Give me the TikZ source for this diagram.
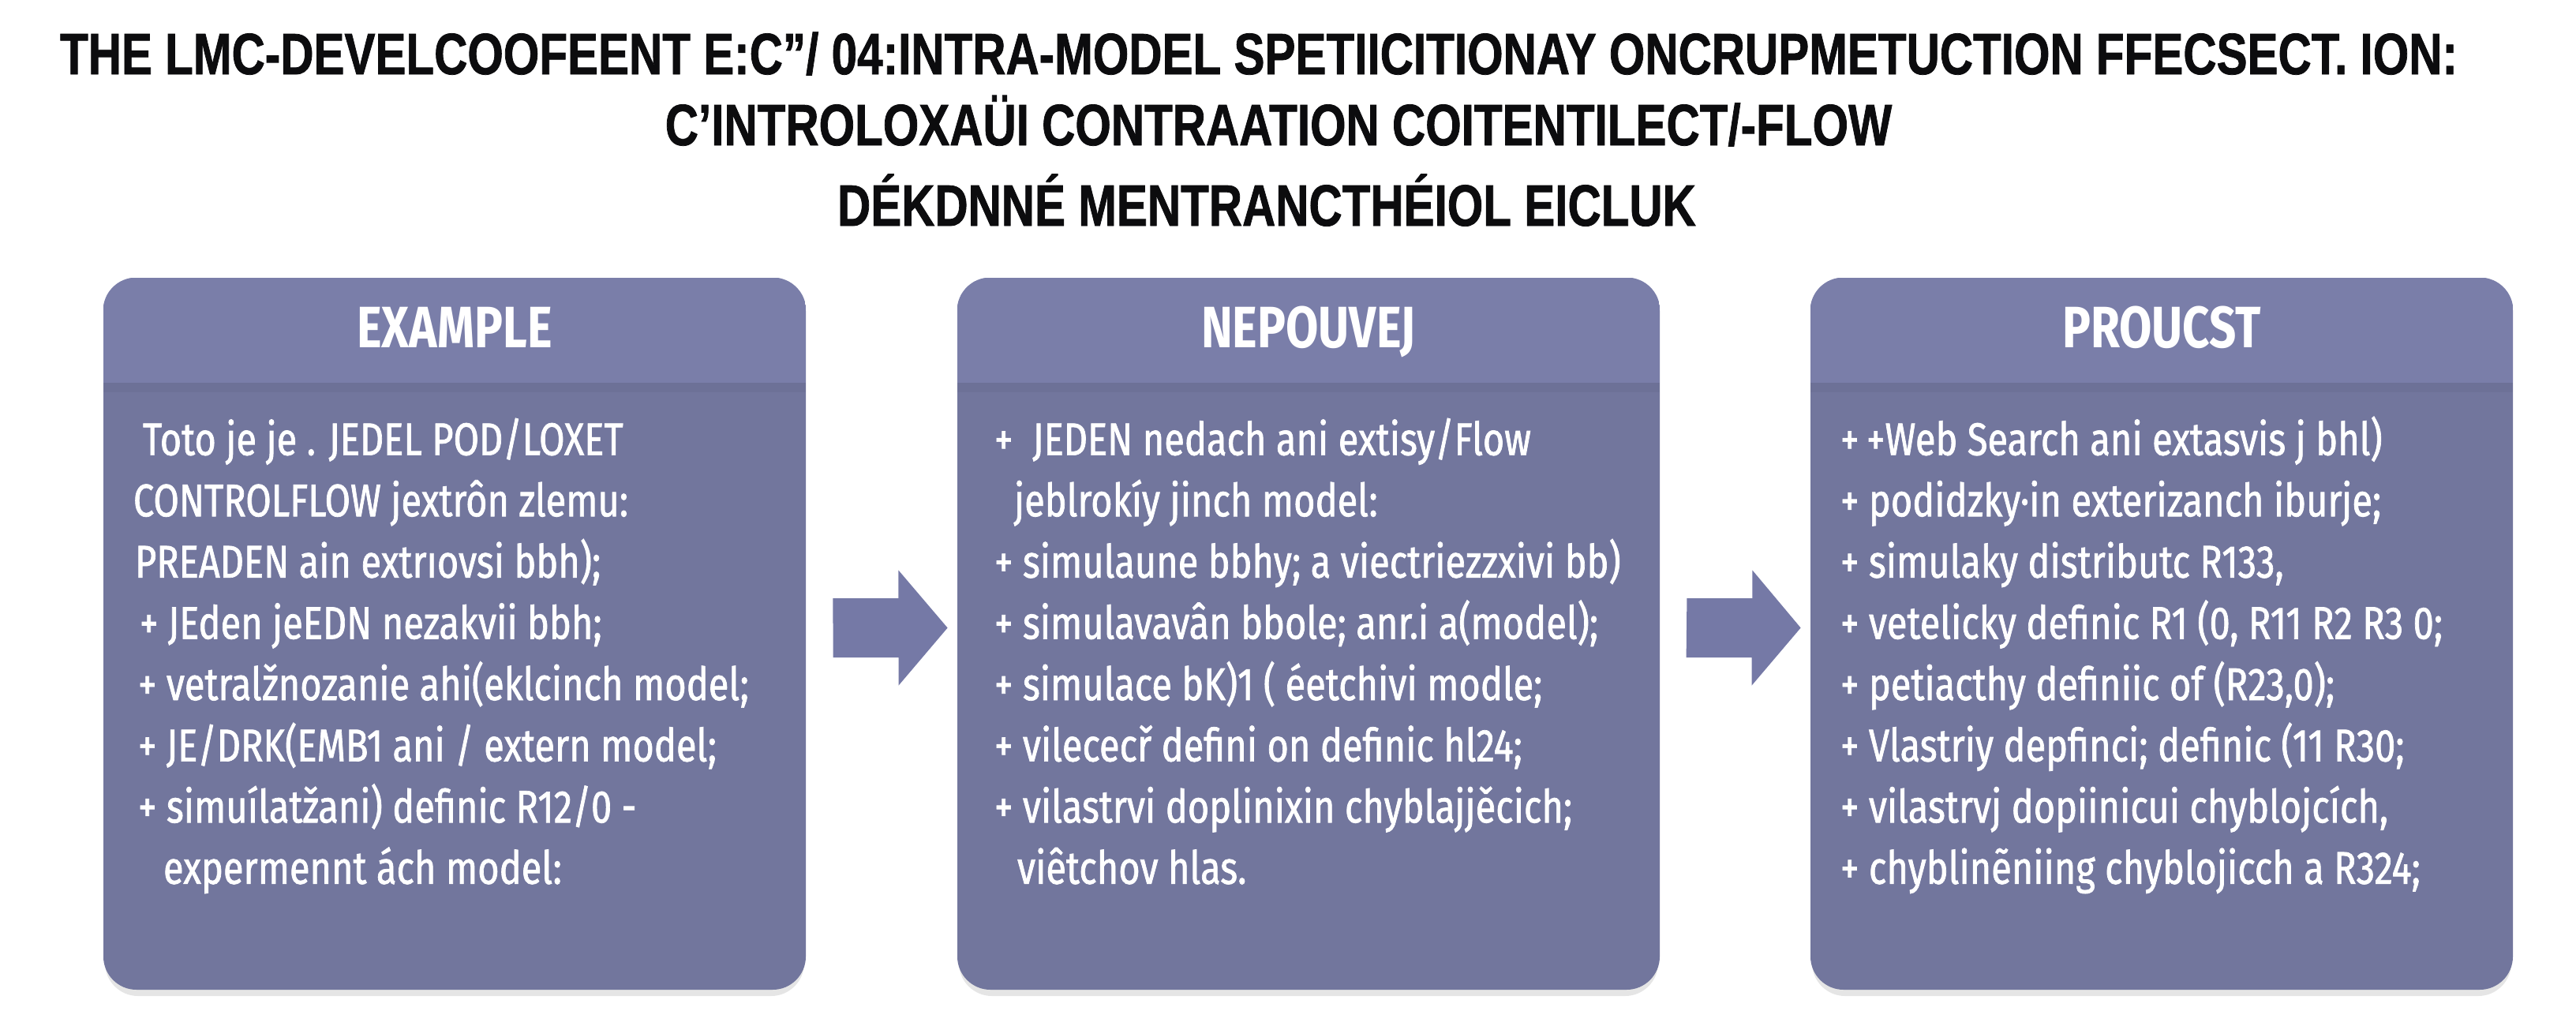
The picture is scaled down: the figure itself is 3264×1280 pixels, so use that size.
\documentclass[tikz,border=0pt]{standalone}
\usepackage{fontspec}
\setmainfont{Fira Sans}[FakeStretch=0.81]
\newfontfamily\bodyfont{Fira Sans}[FakeStretch=0.81, FakeBold=1.2]
\newfontfamily\titlefont{Liberation Sans}[FakeStretch=0.79, FakeBold=1]
\usetikzlibrary{calc}
\definecolor{headcol}{RGB}{122,126,169}
\definecolor{bodycol}{RGB}{114,118,157}
\definecolor{arrcol}{RGB}{117,121,166}
\definecolor{titlecol}{RGB}{12,12,14}
\begin{document}
\begin{tikzpicture}[x=0.5pt,y=-0.5pt,
  card/.style={rectangle, rounded corners=21pt, fill=bodycol, minimum width=445pt, minimum height=451pt, inner sep=0pt},
  titletxt/.style={anchor=base, inner sep=0pt, text=titlecol, font=\titlefont\bfseries\fontsize{37pt}{40pt}\selectfont},
  headtxt/.style={anchor=base, inner sep=0pt, text=white, font=\bfseries\fontsize{37pt}{40pt}\selectfont},
  bodytxt/.style={anchor=base west, inner sep=0pt, text=white, font=\bodyfont\fontsize{29pt}{32pt}\selectfont},
  blockarrow/.style={fill=arrcol}]
\useasboundingbox (0,0) rectangle (3264,1280);
\fill[white] (0,0) rectangle (3264,1280);

% title
\node[titletxt] (t1) at (1595,94) {THE LMC-DEVELCOOFEENT E:C”/ 04:INTRA-MODEL SPETIICITIONAY ONCRUPMETUCTION FFECSECT. ION:};
\node[titletxt] (t2) at (1620,184) {C’INTROLOXAÜI CONTRAATION COITENTILECT/-FLOW};
\node[titletxt] (t3) at (1605,286) {DÉKDNNÉ MENTRANCTHÉIOL EICLUK};

% shadows
\foreach \cx in {576,1658,2739}{
  \fill[black, opacity=0.10, rounded corners=21pt] (\cx-443,360) rectangle (\cx+443,1262);
}

% cards
\node[card] (b1) at (576,803) {};
\node[card] (b2) at (1658,803) {};
\node[card] (b3) at (2739,803) {};

\foreach \b in {b1,b2,b3}{
  \begin{scope}
    \clip[rounded corners=21pt] (\b.south west) rectangle (\b.north east);
    \fill[headcol] (\b.north west) rectangle ($(\b.north east)+(0,133)$);
    \fill[black, opacity=0.035] ($(\b.north west)+(0,133)$) rectangle ($(\b.north east)+(0,145)$);
  \end{scope}
}

% headers
\node[headtxt] (h1) at ($(b1.north)+(0,89)$) {EXAMPLE};
\node[headtxt] (h2) at ($(b2.north)+(0,89)$) {NEPOUVEJ};
\node[headtxt] (h3) at ($(b3.north)+(0,89)$) {PROUCST};

% body 1
\node[bodytxt] (p11) at ($(b1.north west)+(50,225)$) {Toto je je . JEDEL POD/LOXET};
\node[bodytxt] (p12) at ($(b1.north west)+(38,302.6)$) {CONTROLFLOW jextrôn zlemu:};
\node[bodytxt] (p13) at ($(b1.north west)+(40,380.2)$) {PREADEN ain extrıovsi bbh);};
\node[bodytxt] (p14) at ($(b1.north west)+(46,457.8)$) {+ JEden jeEDN nezakvii bbh;};
\node[bodytxt] (p15) at ($(b1.north west)+(44,535.4)$) {+ vetralžnozanie ahi(eklcinch model;};
\node[bodytxt] (p16) at ($(b1.north west)+(44,613)$) {+ JE/DRK(EMB1 ani / extern model;};
\node[bodytxt] (p17) at ($(b1.north west)+(44,690.6)$) {+ simuílatžani) definic R12/0 -};
\node[bodytxt] (p18) at ($(b1.north west)+(76,768.2)$) {expermennt ách model:};

% body 2
\node[bodytxt] (p21) at ($(b2.north west)+(47,225)$) {+ \ JEDEN nedach ani extisy/Flow};
\node[bodytxt] (p22) at ($(b2.north west)+(72,302.6)$) {jeblrokíy jinch model:};
\node[bodytxt] (p23) at ($(b2.north west)+(47,380.2)$) {+ simulaune bbhy; a viectriezzxivi bb)};
\node[bodytxt] (p24) at ($(b2.north west)+(47,457.8)$) {+ simulavavân bbole; anr.i a(model);};
\node[bodytxt] (p25) at ($(b2.north west)+(47,535.4)$) {+ simulace bK)1 ( éetchivi modle;};
\node[bodytxt] (p26) at ($(b2.north west)+(47,613)$) {+ vilececř defini on definic hl24;};
\node[bodytxt] (p27) at ($(b2.north west)+(47,690.6)$) {+ vilastrvi doplinixin chyblajjěcich;};
\node[bodytxt] (p28) at ($(b2.north west)+(76,768.2)$) {viêtchov hlas.};

% body 3
\node[bodytxt] (p31) at ($(b3.north west)+(38,225)$) {+\,+Web Search ani extasvis j bhl)};
\node[bodytxt] (p32) at ($(b3.north west)+(38,302.6)$) {+ podidzky·in exterizanch iburje;};
\node[bodytxt] (p33) at ($(b3.north west)+(38,380.2)$) {+ simulaky distributc R133,};
\node[bodytxt] (p34) at ($(b3.north west)+(38,457.8)$) {+ vetelicky definic R1 (0, R11 R2 R3 0;};
\node[bodytxt] (p35) at ($(b3.north west)+(38,535.4)$) {+ petiacthy definiic of (R23,0);};
\node[bodytxt] (p36) at ($(b3.north west)+(38,613)$) {+ Vlastriy depfinci; definic (11 R30;};
\node[bodytxt] (p37) at ($(b3.north west)+(38,690.6)$) {+ vilastrvj dopiinicui chyblojcích,};
\node[bodytxt] (p38) at ($(b3.north west)+(38,768.2)$) {+ chyblinẽniing chyblojicch a R324;};

% block arrows
\coordinate (a1s) at ($(b1.east)+(34,-7.5)$);
\coordinate (a1e) at ($(b2.west)+(-12,-7.5)$);
\coordinate (a2s) at ($(b2.east)+(34,-7.5)$);
\coordinate (a2e) at ($(b3.west)+(-12,-7.5)$);
\fill[blockarrow] (a1s) ++(0,-37.5) -- ++(83,0) -- ++(0,-35.5) -- (a1e) -- ++(-62,73) -- ++(0,-35.5) -- ++(-83,0) -- cycle;
\fill[blockarrow] (a2s) ++(0,-37.5) -- ++(83,0) -- ++(0,-35.5) -- (a2e) -- ++(-62,73) -- ++(0,-35.5) -- ++(-83,0) -- cycle;
\end{tikzpicture}
\end{document}
